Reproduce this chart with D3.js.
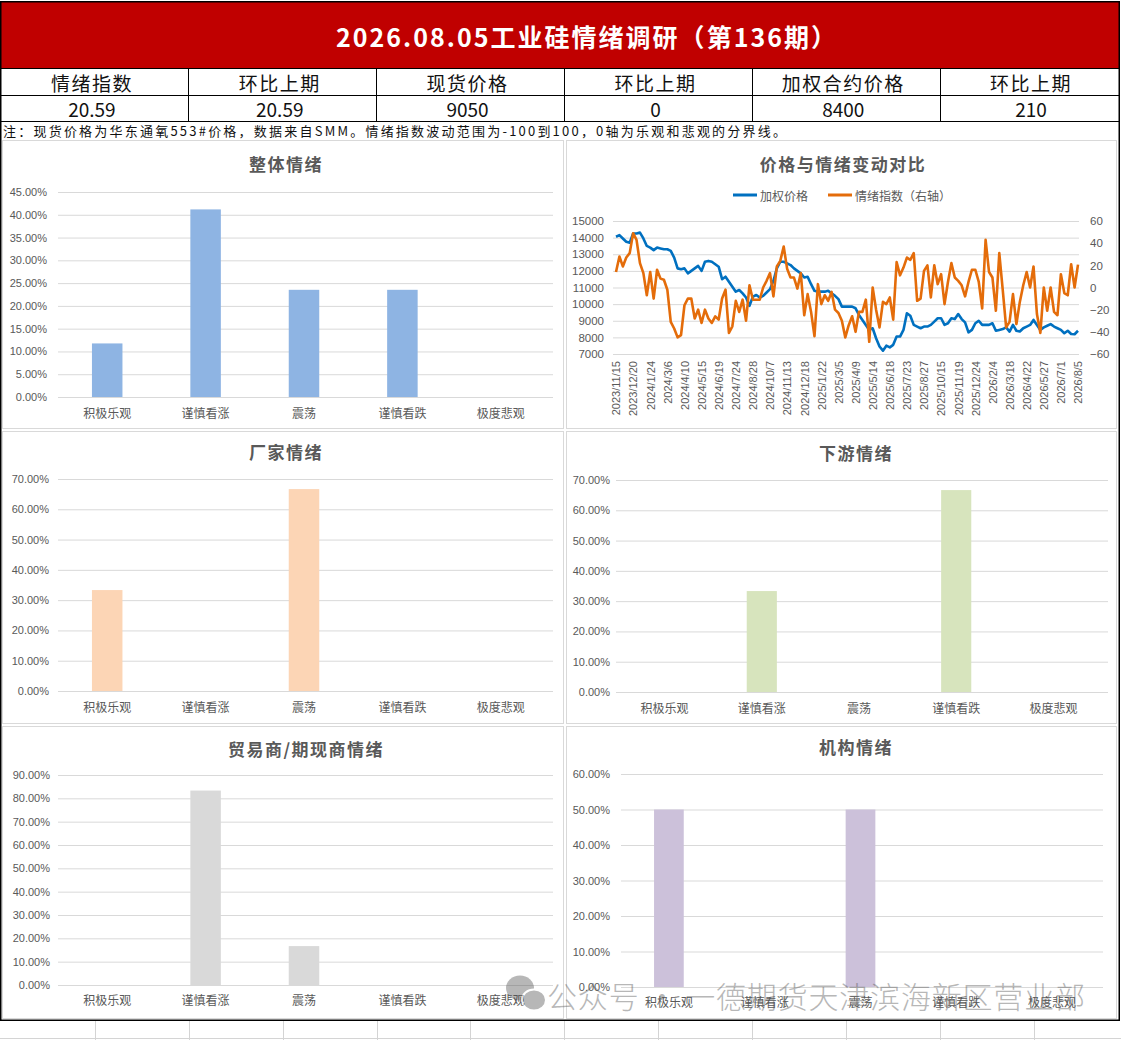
<!DOCTYPE html>
<html>
<head>
<meta charset="utf-8">
<script src="https://cdn.jsdelivr.net/npm/d3@7"></script>
<style>
body { margin: 0; background: #fff; }
text { font-family: "Noto Sans CJK SC", "Noto Sans", sans-serif; }
</style>
</head>
<body>
<div id="chart"></div>
<script>
// header table
const reportTitle = '2026.08.05工业硅情绪调研（第136期）';
const headerLabels = ['情绪指数', '环比上期', '现货价格', '环比上期', '加权合约价格', '环比上期'];
const headerValues = ['20.59', '20.59', '9050', '0', '8400', '210'];
const noteText = '注：现货价格为华东通氧553#价格，数据来自SMM。情绪指数波动范围为-100到100，0轴为乐观和悲观的分界线。';

// survey results
const categories = ['积极乐观', '谨慎看涨', '震荡', '谨慎看跌', '极度悲观'];
const overall = [0.1176, 0.4118, 0.2353, 0.2353, 0];
const producers = [0.3333, 0, 0.6667, 0, 0];
const downstream = [0, 0.3333, 0, 0.6667, 0];
const traders = [0, 0.8333, 0.1667, 0, 0];
const institutions = [0.5, 0, 0.5, 0, 0];

// weekly history
const dates = [
  '2023/11/15','2023/11/22','2023/11/29','2023/12/6','2023/12/13',
  '2023/12/20','2023/12/27','2024/1/3','2024/1/10','2024/1/17',
  '2024/1/24','2024/1/31','2024/2/7','2024/2/21','2024/2/28',
  '2024/3/6','2024/3/13','2024/3/20','2024/3/27','2024/4/3',
  '2024/4/10','2024/4/17','2024/4/24','2024/5/1','2024/5/8',
  '2024/5/15','2024/5/22','2024/5/29','2024/6/5','2024/6/12',
  '2024/6/19','2024/6/26','2024/7/3','2024/7/10','2024/7/17',
  '2024/7/24','2024/7/31','2024/8/7','2024/8/14','2024/8/21',
  '2024/8/28','2024/9/4','2024/9/11','2024/9/18','2024/9/25',
  '2024/10/7','2024/10/16','2024/10/23','2024/10/30','2024/11/6',
  '2024/11/13','2024/11/20','2024/11/27','2024/12/4','2024/12/11',
  '2024/12/18','2024/12/25','2025/1/2','2025/1/8','2025/1/15',
  '2025/1/22','2025/2/5','2025/2/12','2025/2/19','2025/2/26',
  '2025/3/5','2025/3/12','2025/3/19','2025/3/26','2025/4/2',
  '2025/4/9','2025/4/16','2025/4/23','2025/4/30','2025/5/7',
  '2025/5/14','2025/5/21','2025/5/28','2025/6/4','2025/6/11',
  '2025/6/18','2025/6/25','2025/7/2','2025/7/9','2025/7/16',
  '2025/7/23','2025/7/30','2025/8/6','2025/8/13','2025/8/20',
  '2025/8/27','2025/9/3','2025/9/10','2025/9/17','2025/9/24',
  '2025/10/15','2025/10/22','2025/10/29','2025/11/5','2025/11/12',
  '2025/11/19','2025/11/26','2025/12/3','2025/12/10','2025/12/17',
  '2025/12/24','2025/12/31','2026/1/14','2026/1/21','2026/1/28',
  '2026/2/4','2026/2/11','2026/2/25','2026/3/4','2026/3/11',
  '2026/3/18','2026/3/25','2026/4/1','2026/4/8','2026/4/15',
  '2026/4/22','2026/4/29','2026/5/6','2026/5/13','2026/5/20',
  '2026/5/27','2026/6/3','2026/6/10','2026/6/17','2026/6/24',
  '2026/7/1','2026/7/8','2026/7/15','2026/7/22','2026/7/29',
  '2026/8/5'
];
const weightedPrice = [
  14050, 14150, 13950, 13750, 13700, 14250, 14250, 14300, 13950, 13500,
  13400, 13250, 13400, 13350, 13300, 13300, 13200, 12800, 12150, 12100,
  12150, 11850, 12000, 12150, 12300, 12000, 12550, 12600, 12550, 12400,
  12250, 11500, 11650, 11350, 11050, 10750, 10850, 10650, 10400, 9900,
  10450, 10550, 10400, 10500, 10700, 10900, 11400, 12150, 12550, 12550,
  12450, 12350, 12150, 12000, 11850, 11600, 11650, 11200, 10800, 10750,
  10750, 10750, 10800, 10650, 10500, 10300, 9850, 9850, 9850, 9850,
  9750, 9350, 9050, 8750, 8450, 8550, 7950, 7450, 7200, 7500,
  7400, 7550, 8050, 8050, 8450, 9450, 9300, 8750, 8650, 8550,
  8650, 8650, 8750, 8950, 9150, 9150, 8750, 8850, 9150, 9100,
  9400, 9100, 8900, 8300, 8450, 8850, 9000, 8750, 8750, 8750,
  8850, 8400, 8450, 8500, 8600, 8350, 8750, 8400, 8350, 8550,
  8650, 8750, 9050, 8750, 8450, 8600, 8700, 8800, 8650, 8550,
  8450, 8250, 8400, 8200, 8190, 8400
];
const sentimentIndex = [
  14, 28, 19, 27, 31, 49, 43, 22, 13, -7,
  14, -10, 16, 8, 7, -2, -31, -37, -45, -43,
  -16, -10, -10, -28, -20, -32, -20, -28, -32, -26,
  -29, -10, -2, -41, -35, -12, -22, -11, -30, 2,
  -11, -11, -11, 0, 6, 13, -8, 19, 24, 37,
  17, 9, 9, -1, 13, -25, -6, -22, -44, 3,
  -15, -7, -12, -4, -20, -23, -30, -45, -34, -26,
  -40, -22, -22, -11, -49, 0, -20, -36, -13, -15,
  -9, -29, 23, 11, 18, 27, 25, 31, -12, -10,
  15, 20, -9, 20, 3, 12, -15, 5, 22, 9,
  6, 2, -8, 5, 16, 16, 5, -19, 43, 14,
  9, -21, 31, -2, -36, -31, -6, -33, -13, 2,
  14, 0, 19, -24, -41, 0, -21, 0, -22, -25,
  12, -5, -7, 21, 0, 20.59
];

const W = 1121, H = 1040;
const textGray = '#595959', gridGray = '#d9d9d9';

const svg = d3.select('#chart').append('svg')
  .attr('width', W)
  .attr('height', H);

svg.append('rect').attr('width', W).attr('height', H).attr('fill', '#fff');

// spreadsheet cells below the dashboard
const sheetCols = [95, 189, 283, 377, 470, 564, 658, 752, 846, 940, 1034];
svg.append('g').selectAll('line')
  .data(sheetCols)
  .join('line')
  .attr('x1', d => d + 0.5).attr('x2', d => d + 0.5)
  .attr('y1', 1021).attr('y2', H)
  .attr('stroke', '#d4d4d4');
svg.append('line').attr('x1', 0).attr('x2', W).attr('y1', 1038.5).attr('y2', 1038.5).attr('stroke', '#d4d4d4');

// ---- header ----
svg.append('rect')
  .attr('x', 1).attr('y', 2).attr('width', 1118).attr('height', 66)
  .attr('fill', '#c00000');
svg.append('text')
  .attr('x', 586).attr('y', 36)
  .attr('text-anchor', 'middle').attr('dominant-baseline', 'central')
  .attr('fill', '#fff').attr('font-size', 25).attr('font-weight', 700)
  .attr('textLength', 500).attr('lengthAdjust', 'spacing')
  .text(reportTitle);

const colX = d3.scaleBand().domain(d3.range(headerLabels.length)).range([1, 1128]);
const head = svg.append('g');
head.selectAll('text.lab')
  .data(headerLabels)
  .join('text')
  .attr('class', 'lab')
  .attr('x', (d, i) => colX(i) + colX.bandwidth() / 2 - 3)
  .attr('y', 82)
  .attr('text-anchor', 'middle').attr('dominant-baseline', 'central')
  .attr('font-size', 19).attr('letter-spacing', 1.5).attr('fill', '#111')
  .text(d => d);
head.selectAll('text.val')
  .data(headerValues)
  .join('text')
  .attr('class', 'val')
  .attr('x', (d, i) => colX(i) + colX.bandwidth() / 2 - 3)
  .attr('y', 108.5)
  .attr('text-anchor', 'middle').attr('dominant-baseline', 'central')
  .attr('font-size', 19).attr('fill', '#111')
  .text(d => d);

const tableLines = [68, 95, 121];
head.selectAll('line.h')
  .data(tableLines)
  .join('line')
  .attr('x1', 1).attr('x2', 1119)
  .attr('y1', d => d + 0.5).attr('y2', d => d + 0.5)
  .attr('stroke', '#000');
head.selectAll('line.v')
  .data([188, 376, 564, 752, 940])
  .join('line')
  .attr('x1', d => d + 0.5).attr('x2', d => d + 0.5)
  .attr('y1', 68).attr('y2', 121)
  .attr('stroke', '#000');
svg.append('text')
  .attr('x', 3).attr('y', 130)
  .attr('dominant-baseline', 'central')
  .attr('font-size', 13).attr('fill', '#111')
  .attr('textLength', 783).attr('lengthAdjust', 'spacing')
  .text(noteText);

// ---- bar panels ----
function panel(box, title, tx, ty) {
  svg.append('rect')
    .attr('x', box[0] + 0.5).attr('y', box[1] + 0.5)
    .attr('width', box[2] - box[0]).attr('height', box[3] - box[1])
    .attr('fill', '#fff').attr('stroke', gridGray);
  svg.append('text')
    .attr('x', tx).attr('y', ty)
    .attr('text-anchor', 'middle').attr('dominant-baseline', 'central')
    .attr('font-size', 17).attr('font-weight', 700).attr('letter-spacing', 1.5)
    .attr('fill', textGray)
    .text(title);
}

function barChart(cfg) {
  panel(cfg.box, cfg.title, cfg.tx, cfg.ty);
  const g = svg.append('g');
  const x = d3.scaleBand().domain(categories).range([cfg.x0, cfg.x1]);
  const y = d3.scaleLinear().domain([0, cfg.max]).range([cfg.y0, cfg.y1]);
  const ticks = d3.range(0, cfg.max + 0.001, 0.1 / (cfg.step || 1));

  g.append('g')
    .attr('transform', `translate(${cfg.x0},0)`)
    .call(d3.axisLeft(y).tickValues(ticks)
      .tickSize(-(cfg.gx1 - cfg.x0))
      .tickPadding(cfg.x0 - cfg.labelRight)
      .tickFormat(d => (d * 100).toFixed(2) + '%'))
    .call(a => a.select('.domain').remove())
    .call(a => a.selectAll('line').attr('stroke', gridGray))
    .call(a => a.selectAll('text').attr('fill', textGray).attr('font-size', 11)
      .style('font-family', '"Liberation Sans", Arial, sans-serif'));

  g.selectAll('rect')
    .data(cfg.values)
    .join('rect')
    .attr('x', (d, i) => x(categories[i]) + x.bandwidth() * 0.345)
    .attr('width', x.bandwidth() * 0.31)
    .attr('y', d => y(d))
    .attr('height', d => y(0) - y(d))
    .attr('fill', cfg.color);

  g.append('g')
    .attr('transform', `translate(0,${cfg.y0})`)
    .call(d3.axisBottom(x).tickSize(0).tickPadding(cfg.catPad))
    .call(a => a.select('.domain').remove())
    .call(a => a.selectAll('text').attr('fill', textGray).attr('font-size', 12));
}

barChart({
  box: [2, 140, 563, 428], title: '整体情绪', tx: 286, ty: 163,
  x0: 58, x1: 550, gx1: 553, y0: 397, y1: 192, max: 0.45, step: 2,
  labelRight: 47, catPad: 12, values: overall, color: '#8eb4e3'
});
barChart({
  box: [2, 431, 563, 723], title: '厂家情绪', tx: 286, ty: 451,
  x0: 58, x1: 550, gx1: 553, y0: 691, y1: 479, max: 0.7, step: 1,
  labelRight: 49, catPad: 12, values: producers, color: '#fcd5b5'
});
barChart({
  box: [566, 431, 1116, 723], title: '下游情绪', tx: 856, ty: 452,
  x0: 616, x1: 1102, gx1: 1108, y0: 692, y1: 480, max: 0.7, step: 1,
  labelRight: 610, catPad: 12, values: downstream, color: '#d7e4bd'
});
barChart({
  box: [2, 726, 563, 1018], title: '贸易商/期现商情绪', tx: 306, ty: 748,
  x0: 58, x1: 550, gx1: 553, y0: 985, y1: 775, max: 0.9, step: 1,
  labelRight: 50, catPad: 11, values: traders, color: '#d9d9d9'
});
barChart({
  box: [566, 726, 1116, 1018], title: '机构情绪', tx: 856, ty: 746,
  x0: 621, x1: 1100, gx1: 1103, y0: 987, y1: 774, max: 0.6, step: 1,
  labelRight: 610, catPad: 11, values: institutions, color: '#ccc1da'
});

// ---- price vs sentiment line chart ----
panel([566, 140, 1116, 428], '价格与情绪变动对比', 843, 163);
const lc = svg.append('g');
const px0 = 613, px1 = 1079, py0 = 354, py1 = 221;
const xL = d3.scalePoint().domain(dates).range([616, 1078]);
const yL = d3.scaleLinear().domain([7000, 15000]).range([py0, py1]);
const yR = d3.scaleLinear().domain([-60, 60]).range([py0, py1]);

lc.append('g')
  .attr('transform', `translate(${px0},0)`)
  .call(d3.axisLeft(yL).tickValues(d3.range(7000, 15001, 1000))
    .tickSize(-(px1 - px0)).tickPadding(9).tickFormat(d3.format('d')))
  .call(a => a.select('.domain').remove())
  .call(a => a.selectAll('line').attr('stroke', gridGray))
  .call(a => a.selectAll('text').attr('fill', textGray).attr('font-size', 11.5)
    .style('font-family', '"Liberation Sans", Arial, sans-serif'));

lc.append('g')
  .attr('transform', `translate(${px1},0)`)
  .call(d3.axisRight(yR).tickValues(d3.range(-60, 61, 20)).tickSize(0).tickPadding(11))
  .call(a => a.select('.domain').remove())
  .call(a => a.selectAll('text').attr('fill', textGray).attr('font-size', 11.5)
    .style('font-family', '"Liberation Sans", Arial, sans-serif'));

lc.append('g')
  .attr('transform', `translate(0,${py0})`)
  .call(d3.axisBottom(xL).tickValues(dates.filter((d, i) => i % 5 === 0)).tickSize(0))
  .call(a => a.select('.domain').remove())
  .call(a => a.selectAll('text')
    .attr('fill', textGray).attr('font-size', 11)
    .style('font-family', '"Liberation Sans", Arial, sans-serif')
    .attr('text-anchor', 'end')
    .attr('transform', 'rotate(-90)')
    .attr('x', -7).attr('y', 0).attr('dy', '0.35em'));

lc.append('path')
  .datum(weightedPrice)
  .attr('fill', 'none').attr('stroke', '#0070c0').attr('stroke-width', 2.6)
  .attr('stroke-linejoin', 'round')
  .attr('d', d3.line().x((d, i) => xL(dates[i])).y(d => yL(d)));
lc.append('path')
  .datum(sentimentIndex)
  .attr('fill', 'none').attr('stroke', '#e46c0a').attr('stroke-width', 2.6)
  .attr('stroke-linejoin', 'round')
  .attr('d', d3.line().x((d, i) => xL(dates[i])).y(d => yR(d)));

// legend
const legendItems = [
  { name: '加权价格', color: '#0070c0', x: 733 },
  { name: '情绪指数（右轴）', color: '#e46c0a', x: 828 }
];
const lg = lc.selectAll('g.leg').data(legendItems).join('g').attr('class', 'leg')
  .attr('transform', d => `translate(${d.x},195)`);
lg.append('line').attr('x1', 0).attr('x2', 24).attr('stroke', d => d.color).attr('stroke-width', 3);
lg.append('text').attr('x', 27).attr('dominant-baseline', 'central')
  .attr('font-size', 12).attr('fill', textGray).text(d => d.name);

// outer frame
svg.append('rect')
  .attr('x', 0.75).attr('y', 1.75).attr('width', 1118.5).attr('height', 1018.5)
  .attr('fill', 'none').attr('stroke', '#000').attr('stroke-width', 1.5);

// watermark
const wm = svg.append('g').attr('opacity', 0.42);
wm.append('ellipse').attr('cx', 520).attr('cy', 988).attr('rx', 14).attr('ry', 12.5).attr('fill', '#555');
wm.append('ellipse').attr('cx', 534).attr('cy', 1000).attr('rx', 12).attr('ry', 10.5).attr('fill', '#555')
  .attr('stroke', '#fff').attr('stroke-width', 2);
wm.append('text')
  .attr('x', 547).attr('y', 995)
  .attr('dominant-baseline', 'central')
  .attr('font-size', 30).attr('font-weight', 300).attr('fill', '#555')
  .attr('textLength', 538).attr('lengthAdjust', 'spacing')
  .text('公众号 · 一德期货天津滨海新区营业部');
</script>
</body>
</html>
